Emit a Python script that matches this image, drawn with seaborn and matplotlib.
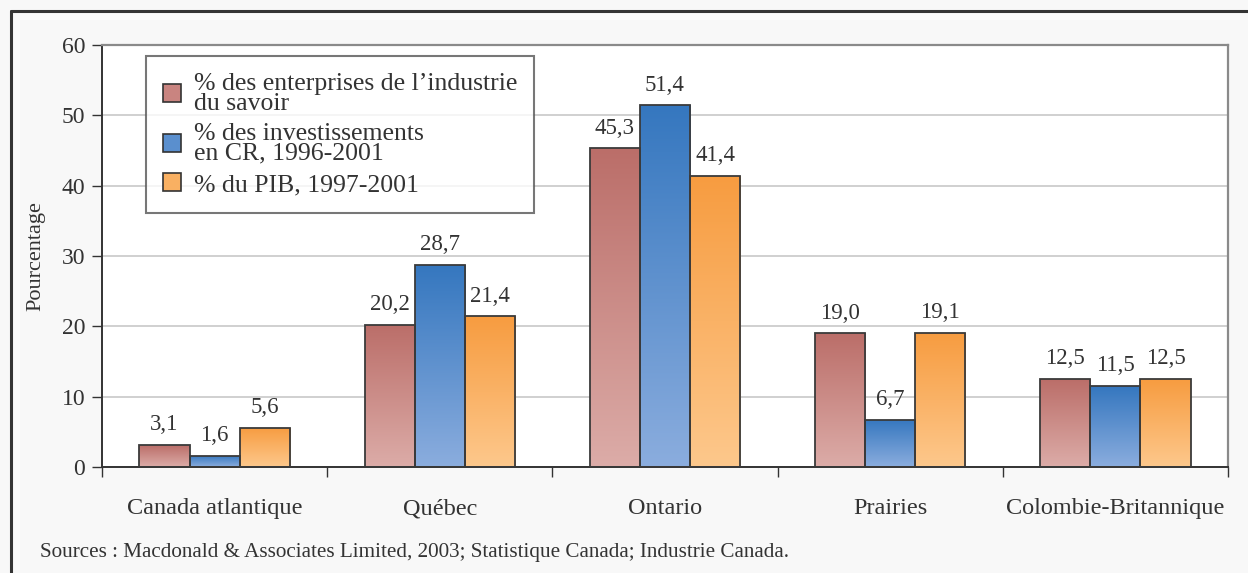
import numpy as np
import pandas as pd
import matplotlib
matplotlib.use("Agg")
import matplotlib.pyplot as plt
import seaborn as sns
from matplotlib.patches import Patch
from matplotlib.lines import Line2D
from matplotlib.colors import to_rgb

regions = ["Canada atlantique", "Québec", "Ontario", "Prairies", "Colombie-Britannique"]
series = ["% des enterprises de l’industrie\ndu savoir",
          "% des investissements\nen CR, 1996-2001",
          "% du PIB, 1997-2001"]
entreprises = [3.1, 20.2, 45.3, 19.0, 12.5]
investissements = [1.6, 28.7, 51.4, 6.7, 11.5]
pib = [5.6, 21.4, 41.4, 19.1, 12.5]
value_labels = [["3,1", "20,2", "45,3", "19,0", "12,5"],
                ["1,6", "28,7", "51,4", "6,7", "11,5"],
                ["5,6", "21,4", "41,4", "19,1", "12,5"]]
y_ticks = [0, 10, 20, 30, 40, 50, 60]
source = "Sources : Macdonald & Associates Limited, 2003; Statistique Canada; Industrie Canada."

top_colors = ["#bb6e69", "#3577bf", "#f79c40"]
bottom_colors = ["#dcaca8", "#8badde", "#fdc88c"]
mid_colors = ["#c98480", "#5a8fce", "#f9b062"]

df = pd.DataFrame({
    "region": regions * 3,
    "series": [series[0]] * 5 + [series[1]] * 5 + [series[2]] * 5,
    "value": entreprises + investissements + pib,
})

sns.set_theme(style="white")
plt.rcParams["font.family"] = ["Liberation Serif", "DejaVu Serif"]

fig = plt.figure(figsize=(12.48, 5.73), dpi=100, facecolor="#f8f8f8")
ax = fig.add_axes([102 / 1248, 1 - 467 / 573, (1228 - 102) / 1248, (467 - 45) / 573])
ax.set_facecolor("white")

sns.barplot(data=df, x="region", y="value", hue="series", order=regions,
            hue_order=series, palette=mid_colors, width=0.667, gap=0,
            edgecolor="#3a3a3a", linewidth=1.3, saturation=1, legend=False, ax=ax)

ax.set_ylim(0, 60)
ax.set_xlim(-0.5, 4.5)

# gradient fills
for i, cont in enumerate(ax.containers):
    c_top = np.array(to_rgb(top_colors[i]))
    c_bot = np.array(to_rgb(bottom_colors[i]))
    t = np.linspace(0, 1, 256)[:, None]
    grad = (c_bot[None, :] * (1 - t) + c_top[None, :] * t)[:, None, :]
    for bar in cont:
        x0 = bar.get_x()
        w = bar.get_width()
        h = bar.get_height()
        im = ax.imshow(grad, extent=[x0, x0 + w, 0, h], origin="lower",
                       aspect="auto", zorder=2.5, interpolation="bilinear")
        im.set_clip_path(bar)
        bar.set_facecolor("none")
        bar.set_zorder(3)
    ax.bar_label(cont, labels=value_labels[i], padding=7, fontsize=16.5, color="#333333")

ax.set_ylim(0, 60)
ax.set_xlim(-0.5, 4.5)
ax.set_aspect("auto")

ax.set_yticks(y_ticks)
ax.yaxis.grid(True, color="#c4c4c4", linewidth=1.1)
ax.set_axisbelow(True)
ax.tick_params(axis="y", which="major", left=True, length=7, width=1, color="#333333",
               labelsize=17, labelcolor="#333333", pad=5)
ax.set_xticks(range(len(regions)))
ax.set_xticklabels(regions)
ax.tick_params(axis="x", which="major", length=0, labelsize=17.5, labelcolor="#333333", pad=34)
for lab in ax.get_xticklabels():
    lab.set_va("baseline")
ax.set_xticks(np.arange(-0.5, 5.0, 1.0), minor=True)
ax.tick_params(axis="x", which="minor", bottom=True, length=7, width=1, color="#333333")

ax.set_xlabel("")
ax.set_ylabel("Pourcentage", fontsize=16, color="#333333", labelpad=12)

for s in ["left", "bottom"]:
    ax.spines[s].set_color("#333333")
    ax.spines[s].set_linewidth(1.4)
for s in ["top", "right"]:
    ax.spines[s].set_color("#8a8a8a")
    ax.spines[s].set_linewidth(1.6)

handles = [Patch(facecolor=mid_colors[i], edgecolor="#333333", linewidth=1.2, label=series[i])
           for i in range(3)]
leg = ax.legend(handles=handles, loc="upper left", bbox_to_anchor=(44 / 1126, 1 - 11 / 422),
                fontsize=18.5, frameon=True, fancybox=False, edgecolor="#555555",
                handlelength=0.7, handleheight=0.7, handletextpad=0.5,
                labelspacing=0.32, borderpad=0.65, borderaxespad=0)
leg.get_frame().set_linewidth(1.5)
for txt in leg.get_texts():
    txt.set_color("#333333")
    txt.set_linespacing(0.88)

# outer frame (top and left)
fig.add_artist(Line2D([11 / 1248, 1.0], [1 - 11 / 573, 1 - 11 / 573], color="#333333", linewidth=2.2))
fig.add_artist(Line2D([11 / 1248, 11 / 1248], [0.0, 1 - 11 / 573], color="#333333", linewidth=2.2))

fig.text(40 / 1248, 1 - 553 / 573, source, fontsize=15.2, color="#333333", va="center", ha="left")

fig.savefig("out.png", dpi=100, facecolor=fig.get_facecolor())
